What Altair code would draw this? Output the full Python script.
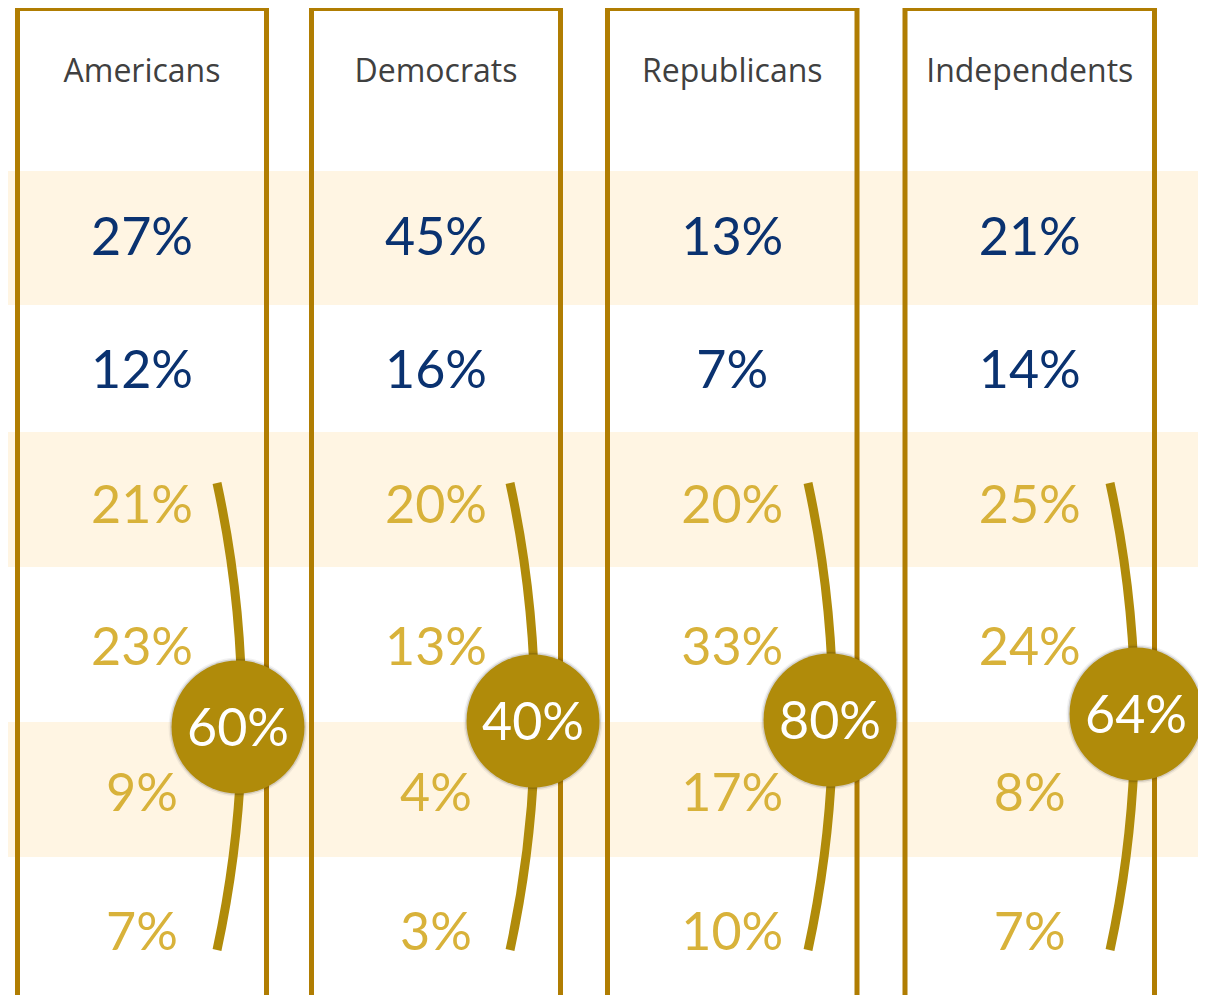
import math
import altair as alt
import pandas as pd

# ---------------- data ----------------
groups = ["Americans", "Democrats", "Republicans", "Independents"]
americans = [27, 12, 21, 23, 9, 7]
democrats = [45, 16, 20, 13, 4, 3]
republicans = [13, 7, 20, 33, 17, 10]
independents = [21, 14, 25, 24, 8, 7]
totals = [60, 40, 80, 64]
segment = ["upper", "upper", "lower", "lower", "lower", "lower"]

# ---------------- layout (pixel space of the picture) ----------------
X0, X1 = 8, 1198
Y0, Y1 = 8, 995
box_left = [17.5, 311.5, 607.5, 905.0]
box_right = [266.5, 560.5, 857.0, 1154.5]
box_top, box_bottom = 8.5, 1015
header_base = 82
row_base = [255, 388, 523, 665, 811, 950]
stripe_top = [171, 432, 722]
stripe_bottom = [305, 567, 857]
circle_x = [238, 533, 830, 1136]
circle_y = [727, 721, 720, 714]
circle_r = 66.5
arc_peak_x = [242, 535, 833, 1135]
arc_mid_y = 716.5
arc_R = 1103
arc_half = 0.2133
arc_w = 9

NAVY = "#0A3270"
GOLD_TXT = "#D8B23A"
GOLD_BOX = "#B07D02"
GOLD_FILL = "#B08B0A"
CREAM = "#FFF5E3"
GREY = "#404040"

xs = alt.Scale(domain=[X0, X1], nice=False, zero=False)
ys = alt.Scale(domain=[Y0, Y1], nice=False, zero=False, reverse=True)

def X(f):
    return alt.X(f, type="quantitative", scale=xs, axis=None)

def Y(f):
    return alt.Y(f, type="quantitative", scale=ys, axis=None)

# symbol size in Vega is the area of the bounding square: (2r)^2
def sym(r):
    return (2 * r) ** 2

# ---------------- tables ----------------
series = [americans, democrats, republicans, independents]
cells = []
for gi, g in enumerate(groups):
    cx = (box_left[gi] + box_right[gi]) / 2
    for ri, v in enumerate(series[gi]):
        cells.append({"group": g, "x": cx, "y": row_base[ri],
                      "label": f"{v}%", "segment": segment[ri]})
cells_df = pd.DataFrame(cells)

head_df = pd.DataFrame({
    "group": groups,
    "x": [(l + r) / 2 for l, r in zip(box_left, box_right)],
    "y": [header_base] * 4,
})

box_df = pd.DataFrame({
    "x": box_left, "x2": box_right,
    "y": [box_top] * 4, "y2": [box_bottom] * 4,
})

stripe_df = pd.DataFrame({
    "x": [0] * 3, "x2": [1206] * 3,
    "y": stripe_top, "y2": stripe_bottom,
})

tot_df = pd.DataFrame({
    "x": circle_x, "y": circle_y,
    "ty": [c + 19 for c in circle_y],
    "label": [f"{t}%" for t in totals],
})

arc_df = pd.DataFrame({
    "x": [p - arc_R for p in arc_peak_x],
    "y": [arc_mid_y] * 4,
})

# ---------------- layers ----------------
stripes = alt.Chart(stripe_df).mark_rect(color=CREAM, clip=True).encode(
    x=X("x"), x2="x2", y=Y("y"), y2="y2")

boxes = alt.Chart(box_df).mark_rect(
    filled=False, stroke=GOLD_BOX, strokeWidth=5, clip=True
).encode(x=X("x"), x2="x2", y=Y("y"), y2="y2")

arcs = alt.Chart(arc_df).mark_arc(
    radius=arc_R + arc_w / 2, radius2=arc_R - arc_w / 2,
    theta=math.pi / 2 - arc_half, theta2=math.pi / 2 + arc_half,
    color=GOLD_FILL
).encode(x=X("x"), y=Y("y"))

shadow1 = alt.Chart(tot_df).mark_circle(
    size=sym(circle_r + 3), color="#000000", opacity=0.05
).encode(x=X("x"), y=Y("y"))
shadow2 = alt.Chart(tot_df).mark_circle(
    size=sym(circle_r + 1.5), color="#000000", opacity=0.12
).encode(x=X("x"), y=Y("y"))

circles = alt.Chart(tot_df).mark_circle(
    size=sym(circle_r), color=GOLD_FILL, opacity=1
).encode(x=X("x"), y=Y("y"))

numbers = alt.Chart(cells_df).mark_text(
    font="Lato", fontSize=52, baseline="alphabetic", align="center"
).encode(
    x=X("x"), y=Y("y"), text="label:N",
    color=alt.Color("segment:N",
                    scale=alt.Scale(domain=["upper", "lower"], range=[NAVY, GOLD_TXT]),
                    legend=None),
)

headers = alt.Chart(head_df).mark_text(
    font="Open Sans", fontSize=32, baseline="alphabetic", align="center", color=GREY
).encode(x=X("x"), y=Y("y"), text="group:N")

tot_text = alt.Chart(tot_df).mark_text(
    font="Lato", fontSize=52, baseline="alphabetic", align="center", color="#FFFFFF"
).encode(x=X("x"), y=Y("ty"), text="label:N")

chart = alt.layer(
    stripes, boxes, arcs, shadow1, shadow2, circles, numbers, headers, tot_text
).properties(
    width=X1 - X0, height=Y1 - Y0,
    autosize=alt.AutoSizeParams(type="none"),
    padding=0,
    background="#FFFFFF",
).configure_view(stroke=None)

chart.save("out.html", embed_options={"renderer": "svg", "actions": False})
